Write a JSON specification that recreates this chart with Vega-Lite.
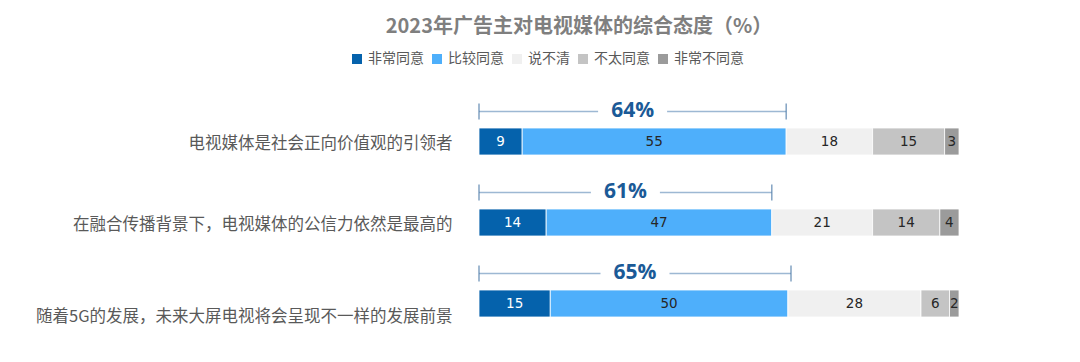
{
  "$schema": "https://vega.github.io/schema/vega-lite/v6.json",
  "width": 480,
  "height": 243,
  "autosize": {"type": "none"},
  "padding": {"left": 479, "top": 101, "right": 121, "bottom": 18},
  "background": "white",
  "title": {
    "text": "2023年广告主对电视媒体的综合态度（%）",
    "font": "Noto Sans CJK SC",
    "fontSize": 20,
    "fontWeight": "bold",
    "color": "#7f7f7f",
    "anchor": "middle",
    "frame": "group",
    "dx": -140,
    "offset": 15
  },
  "config": {"view": {"stroke": null}},
  "datasets": {
    "bars": [
      {"statement": "电视媒体是社会正向价值观的引领者", "cat": "非常同意", "rank": 1, "value": 9},
      {"statement": "电视媒体是社会正向价值观的引领者", "cat": "比较同意", "rank": 2, "value": 55},
      {"statement": "电视媒体是社会正向价值观的引领者", "cat": "说不清", "rank": 3, "value": 18},
      {"statement": "电视媒体是社会正向价值观的引领者", "cat": "不太同意", "rank": 4, "value": 15},
      {"statement": "电视媒体是社会正向价值观的引领者", "cat": "非常不同意", "rank": 5, "value": 3},
      {"statement": "在融合传播背景下，电视媒体的公信力依然是最高的", "cat": "非常同意", "rank": 1, "value": 14},
      {"statement": "在融合传播背景下，电视媒体的公信力依然是最高的", "cat": "比较同意", "rank": 2, "value": 47},
      {"statement": "在融合传播背景下，电视媒体的公信力依然是最高的", "cat": "说不清", "rank": 3, "value": 21},
      {"statement": "在融合传播背景下，电视媒体的公信力依然是最高的", "cat": "不太同意", "rank": 4, "value": 14},
      {"statement": "在融合传播背景下，电视媒体的公信力依然是最高的", "cat": "非常不同意", "rank": 5, "value": 4},
      {"statement": "随着5G的发展，未来大屏电视将会呈现不一样的发展前景", "cat": "非常同意", "rank": 1, "value": 15},
      {"statement": "随着5G的发展，未来大屏电视将会呈现不一样的发展前景", "cat": "比较同意", "rank": 2, "value": 50},
      {"statement": "随着5G的发展，未来大屏电视将会呈现不一样的发展前景", "cat": "说不清", "rank": 3, "value": 28},
      {"statement": "随着5G的发展，未来大屏电视将会呈现不一样的发展前景", "cat": "不太同意", "rank": 4, "value": 6},
      {"statement": "随着5G的发展，未来大屏电视将会呈现不一样的发展前景", "cat": "非常不同意", "rank": 5, "value": 2}
    ],
    "totals": [
      {"statement": "电视媒体是社会正向价值观的引领者", "agree": 64},
      {"statement": "在融合传播背景下，电视媒体的公信力依然是最高的", "agree": 61},
      {"statement": "随着5G的发展，未来大屏电视将会呈现不一样的发展前景", "agree": 65}
    ]
  },
  "encoding": {
    "y": {
      "field": "statement",
      "type": "nominal",
      "sort": ["电视媒体是社会正向价值观的引领者", "在融合传播背景下，电视媒体的公信力依然是最高的", "随着5G的发展，未来大屏电视将会呈现不一样的发展前景"],
      "scale": {"paddingInner": 0, "paddingOuter": 0},
      "axis": {
        "title": null,
        "ticks": false,
        "domain": false,
        "labelPadding": 27,
        "labelFont": "Noto Sans CJK SC",
        "labelFontSize": 16.5,
        "labelColor": "#595959",
        "labelLimit": 700,
        "labelOffset": {
          "condition": {"test": "datum.value === '随着5G的发展，未来大屏电视将会呈现不一样的发展前景'", "value": 13},
          "value": 2
        }
      }
    }
  },
  "layer": [
    {
      "data": {"name": "bars"},
      "mark": {"type": "bar", "size": 27, "stroke": "white", "strokeWidth": 0.8},
      "encoding": {
        "x": {"field": "value", "type": "quantitative", "stack": "normalize", "axis": null},
        "order": {"field": "rank", "type": "quantitative"},
        "color": {
          "field": "cat",
          "type": "nominal",
          "sort": ["非常同意", "比较同意", "说不清", "不太同意", "非常不同意"],
          "scale": {
            "domain": ["非常同意", "比较同意", "说不清", "不太同意", "非常不同意"],
            "range": ["#0562ac", "#4eaffb", "#f0f0f0", "#c4c4c4", "#9b9b9b"]
          },
          "legend": {
            "orient": "none",
            "legendX": -129,
            "legendY": -49,
            "direction": "horizontal",
            "title": null,
            "symbolType": "square",
            "symbolSize": 100,
            "symbolStrokeWidth": 0,
            "symbolOpacity": 1,
            "labelFont": "Noto Sans CJK SC",
            "labelFontSize": 14,
            "labelColor": "#595959",
            "labelOffset": 4,
            "columnPadding": 6
          }
        }
      }
    },
    {
      "data": {"name": "bars"},
      "mark": {"type": "text", "font": "DejaVu Sans", "fontSize": 13.5, "baseline": "middle"},
      "encoding": {
        "x": {"field": "value", "type": "quantitative", "stack": "normalize", "bandPosition": 0.5, "axis": null},
        "order": {"field": "rank", "type": "quantitative"},
        "detail": {"field": "cat", "type": "nominal"},
        "text": {"field": "value", "type": "quantitative"},
        "color": {
          "condition": {"test": "datum.cat === '非常同意'", "value": "white"},
          "value": "#262626"
        }
      }
    },
    {
      "data": {"name": "totals"},
      "mark": {"type": "bar", "yOffset": -30, "color": "#9db8d3", "size": 1.5},
      "encoding": {
        "x": {"field": "agree", "type": "quantitative", "stack": null, "scale": {"domain": [0, 100]}, "axis": null}
      }
    },
    {
      "data": {"name": "totals"},
      "mark": {"type": "tick", "yOffset": -30, "color": "#4d7aa8", "thickness": 1.5, "size": 16},
      "encoding": {
        "x": {"datum": 0, "type": "quantitative", "scale": {"domain": [0, 100]}, "axis": null}
      }
    },
    {
      "data": {"name": "totals"},
      "mark": {"type": "tick", "yOffset": -30, "color": "#4d7aa8", "thickness": 1.5, "size": 16},
      "encoding": {
        "x": {"field": "agree", "type": "quantitative", "scale": {"domain": [0, 100]}, "axis": null}
      }
    },
    {
      "data": {"name": "totals"},
      "mark": {"type": "point", "shape": "M-1,-0.15H1V0.15H-1Z", "filled": true, "color": "white", "opacity": 1, "strokeWidth": 0, "size": 4761, "yOffset": -30},
      "encoding": {
        "x": {"field": "agree", "type": "quantitative", "scale": {"domain": [0, 200]}, "axis": null}
      }
    },
    {
      "data": {"name": "totals"},
      "mark": {"type": "text", "text": {"expr": "datum.agree + '%'"}, "font": "Open Sans", "fontWeight": "bold", "fontSize": 21, "color": "#1b5a97", "yOffset": -31, "baseline": "middle"},
      "encoding": {
        "x": {"field": "agree", "type": "quantitative", "scale": {"domain": [0, 200]}, "axis": null}
      }
    }
  ],
  "resolve": {"scale": {"x": "independent"}}
}
